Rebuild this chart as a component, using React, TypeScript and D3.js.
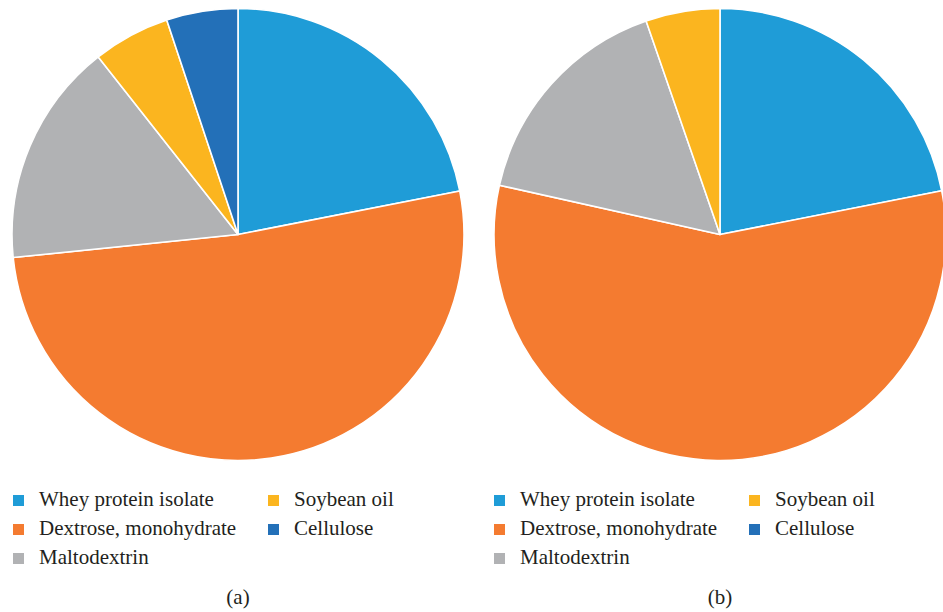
import React from "react";
import * as d3 from "d3";

const categories = ["Whey protein isolate", "Dextrose, monohydrate", "Maltodextrin", "Soybean oil", "Cellulose"];
const colors = ["#1f9cd7", "#f47b30", "#b1b2b4", "#fbb51f", "#2370b8"];
const valuesA = [21.9, 51.4, 16.0, 5.5, 5.1];
const valuesB = [21.9, 56.6, 16.2, 5.3, 0];
const captions = ["(a)", "(b)"];

const W = 943;
const H = 612;
const R = 226;
const textStyle = { fontFamily: '"Liberation Serif", "Times New Roman", Times, serif', fontSize: "21px" };

function Pie({ values, cx, cy, caption, legendX }: { values: number[]; cx: number; cy: number; caption: string; legendX: number }) {
  const pie = d3.pie<number>().sort(null).value((d) => d);
  const arcs = pie(values);
  const arc = d3.arc<d3.PieArcDatum<number>>().innerRadius(0).outerRadius(R);
  return (
    <g>
      <g transform={`translate(${cx},${cy})`}>
        {arcs.map((a, i) =>
          a.value > 0 ? (
            <path key={i} d={arc(a) || ""} fill={colors[i]} stroke="#ffffff" strokeWidth={1.6} strokeLinejoin="round" />
          ) : null
        )}
      </g>
      {categories.map((c, i) => {
        const colIdx = i < 3 ? 0 : 1;
        const row = i < 3 ? i : i - 3;
        const x = legendX + colIdx * 255;
        const y = 500 + row * 29;
        return (
          <g key={c}>
            <rect x={x} y={y - 5} width={11} height={11} fill={colors[i]} />
            <text x={x + 26} y={y + 6} style={textStyle} fill="#231f20">
              {c}
            </text>
          </g>
        );
      })}
      <text x={cx} y={604} textAnchor="middle" style={textStyle} fill="#231f20">
        {caption}
      </text>
    </g>
  );
}

export default function App() {
  return (
    <svg width={W} height={H} style={{ display: "block", position: "absolute", left: 0, top: 0, background: "#fff" }}>
      <rect width={W} height={H} fill="#ffffff" />
      <Pie values={valuesA} cx={238} cy={234.5} caption={captions[0]} legendX={13} />
      <Pie values={valuesB} cx={720} cy={234.5} caption={captions[1]} legendX={494} />
    </svg>
  );
}
